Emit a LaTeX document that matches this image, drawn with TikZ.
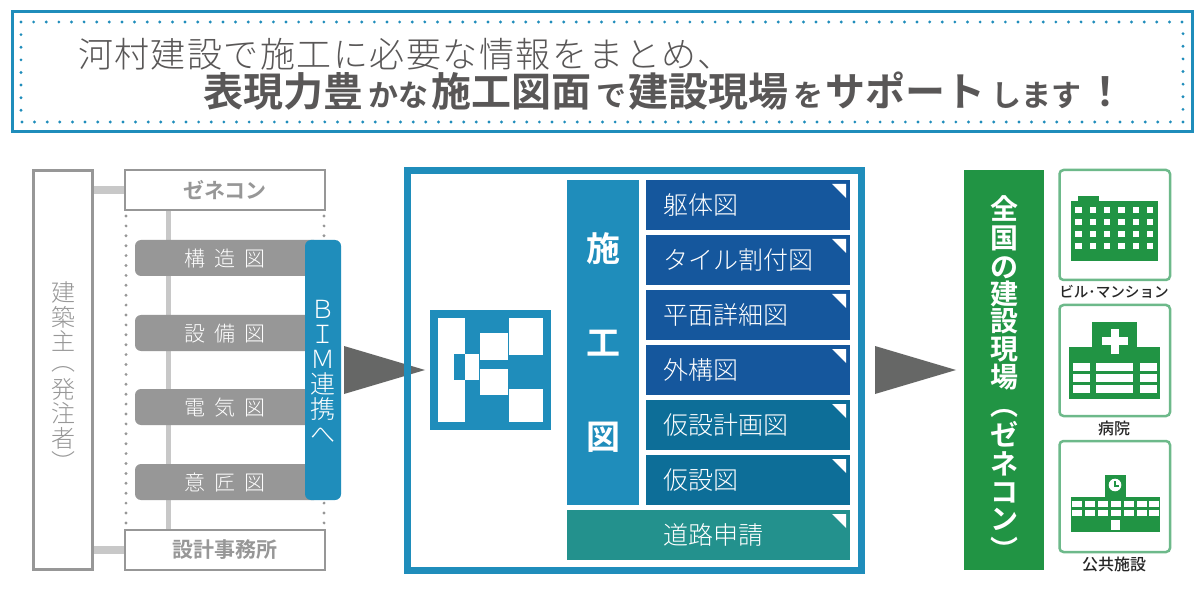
\documentclass[tikz,border=0pt]{standalone}
\usepackage{fontspec}
\setmainfont{Noto Sans CJK JP}
\newfontfamily\jpr{Noto Sans CJK JP}
\newfontfamily\jpl{Noto Sans CJK JP Light}
\newfontfamily\jpb{Noto Sans CJK JP Bold}
\newfontfamily\jpm{Noto Sans CJK JP Medium}
\definecolor{cblue}{HTML}{1F8DBB}
\definecolor{cnavy}{HTML}{15579D}
\definecolor{cteal}{HTML}{0D6E98}
\definecolor{cgreenb}{HTML}{23918D}
\definecolor{cgreen}{HTML}{219444}
\definecolor{cgreenl}{HTML}{6DB98A}
\definecolor{cgray}{HTML}{979797}
\definecolor{clight}{HTML}{C8C8C8}
\definecolor{cdark}{HTML}{666766}
\definecolor{ctitle}{HTML}{595757}
\newcommand{\fs}[1]{\fontsize{#1}{#1}\selectfont}
\newcommand{\cornertri}[1]{\fill[white] (832,#1+4) -- (846,#1+4) -- (846,#1+18) -- cycle;}
\tikzset{
  x=1pt,y=-1pt,
  txt/.style={inner sep=0pt,outer sep=0pt,anchor=mid west},
  ctxt/.style={inner sep=0pt,outer sep=0pt,anchor=mid},
  grayrect/.style={draw=cgray,line width=3pt,fill=white},
  bar/.style={fill=cgray,rounded corners=6pt},
  item/.style={txt,yshift=-6.5pt,text=white,font=\jpl\fs{25}},
  ttl/.style={txt,yshift=-11.6pt,text=ctitle,font=\jpb\fs{40}},
  tts/.style={txt,yshift=-8.7pt,text=ctitle,font=\jpb\fs{30}},
  gbox/.style={draw=cgreenl,line width=2.5pt,rounded corners=4pt,fill=white},
  glab/.style={ctxt,yshift=-4.6pt,text=black!85,font=\jpm\fs{16}},
  vgreen/.style={ctxt,yshift=-8.1pt,text=white,font=\jpb\fs{28}},
  pgreen/.style={inner sep=0pt,outer sep=0pt,anchor=center,text=white,font=\jpb\fs{28}},
  vgray/.style={ctxt,yshift=-7pt,text=cgray,font=\jpl\fs{24}},
  pgray/.style={inner sep=0pt,outer sep=0pt,anchor=center,text=cgray,font=\jpl\fs{24}},
  vblue/.style={ctxt,yshift=-7.3pt,text=white,font=\jpl\fs{25}},
  shi/.style={ctxt,yshift=-9.9pt,text=white,font=\jpb\fs{34}},
  barlab/.style={txt,yshift=-6.1pt,text=white,font=\jpl\fs{21}\addfontfeature{LetterSpace=43}},
}
\begin{document}
\begin{tikzpicture}
\useasboundingbox (0,0) rectangle (1201,601);
\fill[white] (0,0) rectangle (1201,601);
% title frame
\draw[cblue,line width=3pt] (12,11.5) rectangle (1192,131.5);
\draw[cblue,line width=3.2pt,line cap=round,dash pattern=on 0pt off 12.62pt] (21,22) -- (1183,22) -- (1183,122) -- (21,122) -- cycle;
\node[txt,yshift=-10.2pt,text=ctitle,font=\jpl\fs{35}\addfontfeature{LetterSpace=4.2}] (t1) at (78,55) {河村建設で施工に必要な情報をまとめ、};
\node[ttl] (t2) at (203,92) {表現力豊};
\node[tts] (t3) at (368,95.5) {かな};
\node[ttl] (t4) at (431,92) {施工図面};
\node[tts] (t5) at (596,95.5) {で};
\node[ttl] (t6) at (628,92) {建設現場};
\node[tts] (t7) at (793,95.5) {を};
\node[ttl] (t8) at (825,92) {サポート};
\node[tts] (t9) at (991,95.5) {します};
\node[ttl] (t10) at (1085,92) {！};
% left column
\draw[clight,line width=8pt] (93,190) -- (125,190);
\draw[clight,line width=8pt] (93,550) -- (125,550);
\draw[clight,line width=5pt] (168.5,210) -- (168.5,530);
\draw[cgray,line width=3.2pt,line cap=round,dash pattern=on 0pt off 9.9pt] (126,216) -- (126,523);
\draw[cgray,line width=3.2pt,line cap=round,dash pattern=on 0pt off 9.9pt] (324,216) -- (324,523);
\node[grayrect,minimum width=59pt,minimum height=399pt,inner sep=0pt,outer sep=0pt] (owner) at (62.5,370) {};
\node[vgray] (o1) at (63,292) {建};
\node[vgray] (o2) at (63,317) {築};
\node[vgray] (o3) at (63,341) {主};
\node[pgray] (o4) at (63,369) {︵};
\node[vgray] (o5) at (63,389) {発};
\node[vgray] (o6) at (63,413) {注};
\node[vgray] (o7) at (63,438) {者};
\node[pgray] (o8) at (63,462) {︶};
\node[draw=cgray,line width=2pt,fill=white,minimum width=200pt,minimum height=40pt,inner sep=0pt,outer sep=0pt,text=cgray,font=\jpb\fs{21}] (gc) at (225,190) {ゼネコン};
\node[draw=cgray,line width=2pt,fill=white,minimum width=200pt,minimum height=40pt,inner sep=0pt,outer sep=0pt,text=cgray,font=\jpb\fs{21}] (sj) at (225,550) {設計事務所};
\fill[bar] (135,240) rectangle (320,276);
\fill[bar] (135,315) rectangle (320,351);
\fill[bar] (135,389) rectangle (320,425);
\fill[bar] (135,464) rectangle (320,500);
\fill[cblue,rounded corners=6pt] (305,240) rectangle (341,500);
\node[barlab] (b1) at (184,258) {構造図};
\node[barlab] (b2) at (184,333) {設備図};
\node[barlab] (b3) at (184,407) {電気図};
\node[barlab] (b4) at (184,482) {意匠図};
\node[vblue] (v1) at (323,308) {Ｂ};
\node[vblue] (v2) at (323,333) {Ｉ};
\node[vblue] (v3) at (323,358) {Ｍ};
\node[vblue] (v4) at (323,383) {連};
\node[vblue] (v5) at (323,408) {携};
\node[vblue] (v6) at (323,433) {へ};
% arrows
\fill[cdark] (344,346) -- (425,370) -- (344,394) -- cycle;
\fill[cdark] (875,346) -- (956,370) -- (875,394) -- cycle;
% center frame
\draw[cblue,line width=7pt] (407.5,170.5) rectangle (861,570.5);
% icon
\fill[cblue] (430,310) rectangle (551,430);
\fill[white] (438,318) rectangle (465,422);
\fill[cblue] (454,354) rectangle (465,380);
\fill[white] (465,354) rectangle (479,380);
\fill[white] (480,333) rectangle (508,360);
\fill[white] (480,369) rectangle (508,395);
\fill[white] (509,318) rectangle (543,355);
\fill[white] (509,389) rectangle (543,422);
% sekou column
\fill[cblue] (567,180) rectangle (639,505);
\node[shi] (s1) at (603,249) {施};
\node[shi] (s2) at (603,343) {工};
\node[shi] (s3) at (603,437) {図};
\fill[cnavy] (646,180) rectangle (850,230); \cornertri{180}
\fill[cnavy] (646,235) rectangle (850,285); \cornertri{235}
\fill[cnavy] (646,290) rectangle (850,340); \cornertri{290}
\fill[cnavy] (646,345) rectangle (850,395); \cornertri{345}
\fill[cteal] (646,400) rectangle (850,450); \cornertri{400}
\fill[cteal] (646,455) rectangle (850,505); \cornertri{455}
\fill[cgreenb] (567,510) rectangle (850,560); \cornertri{510}
\node[item] (i1) at (663,205) {躯体図};
\node[item] (i2) at (663,260) {タイル割付図};
\node[item] (i3) at (663,315) {平面詳細図};
\node[item] (i4) at (663,370) {外構図};
\node[item] (i5) at (663,425) {仮設計画図};
\node[item] (i6) at (663,480) {仮設図};
\node[item] (i7) at (663,535) {道路申請};
% green bar
\fill[cgreen] (964,170) rectangle (1044,570);
\node[vgreen] (g1) at (1004,209) {全};
\node[vgreen] (g2) at (1004,238) {国};
\node[vgreen] (g3) at (1004,267) {の};
\node[vgreen] (g4) at (1004,294) {建};
\node[vgreen] (g5) at (1004,321) {設};
\node[vgreen] (g6) at (1004,349) {現};
\node[vgreen] (g7) at (1004,377) {場};
\node[pgreen] (g8) at (1004,414) {︵};
\node[vgreen] (g9) at (1004,435) {ゼ};
\node[vgreen] (g10) at (1004,464) {ネ};
\node[vgreen] (g11) at (1004,492) {コ};
\node[vgreen] (g12) at (1004,519) {ン};
\node[pgreen] (g13) at (1004,549) {︶};
% building
\draw[gbox] (1059.5,170) rectangle (1170,280);
\fill[cgreen] (1071,201) rectangle (1158,261);
\fill[cgreen] (1078,196) rectangle (1099,202);
\foreach \c in {0,...,5}{\foreach \r in {0,...,3}{
  \fill[white] ({1075.3+14.3*\c},{207+12*\r}) rectangle +(6.4,6.3);}}
\node[glab,font=\jpm\fs{14.6}] (l1) at (1114,290) {ビル･マンション};
% hospital
\draw[gbox] (1059.5,305) rectangle (1170,416);
\fill[cgreen] (1092,322) rectangle (1137,348);
\fill[cgreen] (1069,347) rectangle (1160,399);
\fill[white] (1102,337) rectangle (1128,345);
\fill[white] (1111,329) rectangle (1119,354);
\foreach \yy in {363,374,385}{
  \fill[white] (1073,\yy) rectangle (1090,\yy+8);
  \fill[white] (1096,\yy) rectangle (1133,\yy+8);
  \fill[white] (1140,\yy) rectangle (1157,\yy+8);}
\node[glab] (l2) at (1114,427) {病院};
% school
\draw[gbox] (1059.5,441) rectangle (1170,552);
\fill[cgreen] (1105,475) rectangle (1126,498);
\fill[cgreen] (1071,497) rectangle (1160,532);
\fill[white] (1115,485) circle (6.3pt);
\draw[cgreen,line width=1.2pt] (1115,481) -- (1115,486) -- (1119,486);
\foreach \c in {0,...,6}{
  \fill[white] ({1072+12.9*\c},501) rectangle +(10,5.5);
  \fill[white] ({1072+12.9*\c},510) rectangle +(10,5.5);}
\fill[white] (1111,520) rectangle (1120,530);
\node[glab] (l3) at (1114,563) {公共施設};
\end{tikzpicture}
\end{document}
